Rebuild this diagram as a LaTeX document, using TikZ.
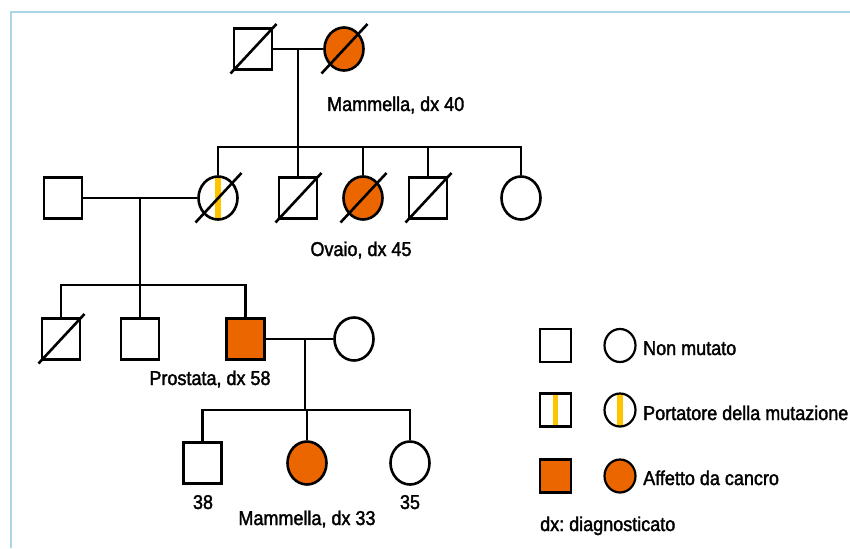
\documentclass[tikz,border=0pt]{standalone}
\usepackage{fontspec}
\setmainfont[FakeStretch=0.9, FakeBold=1.8]{Liberation Sans}
\usetikzlibrary{shapes.geometric,calc,positioning}
\definecolor{affcol}{RGB}{236,102,0}
\definecolor{carcol}{RGB}{255,196,0}
\definecolor{framecol}{RGB}{168,214,230}
\definecolor{linecol}{RGB}{0,0,0}

% slash through a deceased individual
\newcommand{\deceased}[1]{\draw[slash] ($(#1.center)+(-22.5,24.5)$) -- ($(#1.center)+(23.5,-25)$);}

\begin{document}
\begin{tikzpicture}[
  x=1pt, y=-1pt,
  male/.style={
    draw=linecol, line width=2.6pt, rectangle, fill=white,
    minimum width=38pt, minimum height=41pt, inner sep=0pt
  },
  female/.style={
    draw=linecol, line width=2.6pt, ellipse, fill=white,
    minimum width=39pt, minimum height=43pt, inner sep=0pt
  },
  affected/.style={fill=affcol},
  carrier/.style={path picture={
    \fill[carcol] ($(path picture bounding box.north)+(-2.8,0)$)
      rectangle ($(path picture bounding box.south)+(2.8,0)$);}},
  lmale/.style={male, line width=2.2pt, minimum width=31pt, minimum height=33pt},
  lfemale/.style={female, line width=2.2pt, minimum width=31pt, minimum height=33pt},
  rel/.style={draw=linecol, line width=2.6pt},
  slash/.style={draw=linecol, line width=2.6pt},
  lbl/.style={font=\fontsize{20}{23}\selectfont, text=black, inner sep=0pt}
]
\useasboundingbox (0,0) rectangle (850,548);
\draw[framecol, line width=1.5pt] (11,548) -- (11,12) -- (850,12);

%% ===================== Generation I =============================
\node[male]               (g1m)  at (253,49)  {};
\node[female, affected]   (g1f)  at (344,49)  {};

%% ===================== Generation II ============================
\node[male]               (g2sp) at (63,198)  {};
\node[female, carrier]    (g2a)  at (218,198) {};
\node[male]               (g2b)  at (298,198) {};
\node[female, affected]   (g2c)  at (363,198) {};
\node[male]               (g2d)  at (428,198) {};
\node[female]             (g2e)  at (521,198) {};

%% ===================== Generation III ===========================
\node[male]               (g3a)  at (61,339)    {};
\node[male]               (g3b)  at (140,339)   {};
\node[male, affected]     (g3c)  at (245.5,339) {};
\node[female]             (g3sp) at (354,339)   {};

%% ===================== Generation IV ============================
\node[male]               (g4a)  at (202.5,463) {};
\node[female, affected]   (g4b)  at (307,463)   {};
\node[female]             (g4c)  at (410,463)   {};

%% ===================== Relationship lines =======================
\coordinate (m1) at (298,49);
\coordinate (s2) at (298,147);
\coordinate (m2) at (140,198);
\coordinate (s3) at (140,285);
\coordinate (m3) at (305,339);
\coordinate (s4) at (305,410);

\draw[rel] (g1m.east) -- (g1f.west);
\draw[rel] (m1) -- (s2);
\draw[rel] (g2a.north) -- (g2a.north |- s2) -- (g2e.north |- s2) -- (g2e.north);
\foreach \k in {g2b,g2c,g2d}
  \draw[rel] (\k.north |- s2) -- (\k.north);

\draw[rel] (g2sp.east) -- (g2a.west);
\draw[rel] (m2) -- (s3);
\draw[rel] (g3a.north) -- (g3a.north |- s3) -- (g3c.north |- s3) -- (g3c.north);
\draw[rel] (g3b.north |- s3) -- (g3b.north);

\draw[rel] (g3c.east) -- (g3sp.west);
\draw[rel] (m3) -- (s4);
\draw[rel] (g4a.north) -- (g4a.north |- s4) -- (g4c.north |- s4) -- (g4c.north);
\draw[rel] (g4b.north |- s4) -- (g4b.north);

%% ===================== Deceased =================================
\foreach \k in {g1m,g1f,g2a,g2b,g2c,g2d,g3a}
  {\deceased{\k}}

%% ===================== Labels ===================================
\node[lbl, anchor=base west] (lab1) at (327,111) {Mammella, dx 40};
\node[lbl, anchor=base]      (lab2) at (361,256) {Ovaio, dx 45};
\node[lbl, anchor=base]      (lab3) at (210,385) {Prostata, dx 58};
\node[lbl, anchor=base]      (lab4) at (203,509) {38};
\node[lbl, anchor=base]      (lab5) at (410,509) {35};
\node[lbl, anchor=base]      (lab6) at (307,525) {Mammella, dx 33};

%% ===================== Legend ===================================
\node[lmale]              (ls1) at (555.5,345.5) {};
\node[lfemale]            (lc1) at (620,345.5)   {};
\node[lbl, anchor=base west] (lt1) at (643,355) {Non mutato};

\node[lmale, carrier]     (ls2) at (555.5,410) {};
\node[lfemale, carrier]   (lc2) at (620,410)   {};
\node[lbl, anchor=base west] (lt2) at (643,420) {Portatore della mutazione};

\node[lmale, affected]    (ls3) at (555.5,476) {};
\node[lfemale, affected]  (lc3) at (620,476)   {};
\node[lbl, anchor=base west] (lt3) at (643,485) {Affetto da cancro};

\node[lbl, anchor=base west] (lt4) at (540,531) {dx:~diagnosticato};

\end{tikzpicture}
\end{document}
